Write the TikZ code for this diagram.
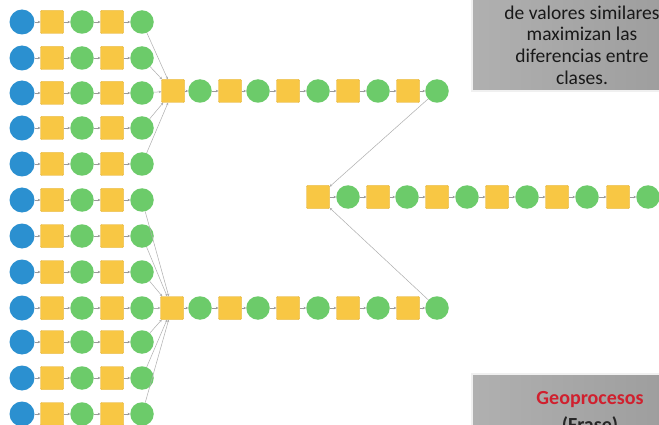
\documentclass[tikz,border=0pt]{standalone}
\usepackage{fontspec}
\setmainfont{Carlito}
\usetikzlibrary{arrows.meta}
\definecolor{mblue}{HTML}{2B90D0}
\definecolor{myel}{HTML}{F8C744}
\definecolor{myelb}{HTML}{E3AE2A}
\definecolor{mgrn}{HTML}{6CCB6A}
\definecolor{mline}{HTML}{9A9A9A}
\definecolor{boxl}{HTML}{B0B0B0}
\definecolor{boxr}{HTML}{9E9E9E}
\definecolor{mred}{HTML}{D0202E}
\begin{document}
\begin{tikzpicture}[x=1pt,y=-1pt,
 bl/.style={circle,fill=mblue,minimum size=25pt,inner sep=0pt},
 ye/.style={rectangle,rounded corners=1pt,fill=myel,draw=myelb,line width=0.4pt,minimum width=23pt,minimum height=23pt,inner sep=0pt},
 gr/.style={circle,fill=mgrn,minimum size=23.5pt,inner sep=0pt},
 con/.style={draw=mline,line width=0.5pt,-{Stealth[length=2.5pt,width=2.5pt]}},
 lnk/.style={draw=mline!80,line width=0.5pt,-{Stealth[length=2.5pt,width=2.5pt]}},
 greybox/.style={left color=boxl,right color=boxr}]
\useasboundingbox (0,0) rectangle (659,425);
\fill[white] (0,0) rectangle (659,425);
% left column
\foreach \i/\y in {1/22,2/58,3/93,4/128,5/164,6/200,7/236,8/272,9/308,10/342,11/378,12/414}{
  \node[bl] (b\i) at (22,\y) {};
  \node[ye] (ya\i) at (52,\y) {};
  \node[gr] (ga\i) at (82,\y) {};
  \node[ye] (yb\i) at (112,\y) {};
  \node[gr] (gb\i) at (142,\y) {};
  \draw[con] (b\i) -- (ya\i);
  \draw[con] (ya\i) -- (ga\i);
  \draw[con] (ga\i) -- (yb\i);
  \draw[con] (yb\i) -- (gb\i);
}
% top merge and chain
\node[ye] (mt) at (173,91) {};
\node[ye] (mb) at (172,308) {};
\foreach \i in {1,...,5}{\draw[lnk] (gb\i) -- (mt);}
\foreach \i in {6,...,12}{\draw[lnk] (gb\i) -- (mb);}
\foreach \n/\x/\s in {1/200/gr,2/230/ye,3/258/gr,4/288/ye,5/318/gr,6/348/ye,7/378/gr,8/408/ye,9/437/gr}{
  \node[\s] (t\n) at (\x,91) {};
  \node[\s] (u\n) at (\x,308) {};
}
\draw[con] (mt) -- (t1);
\draw[con] (mb) -- (u1);
\foreach \a/\b in {1/2,2/3,3/4,4/5,5/6,6/7,7/8,8/9}{
  \draw[con] (t\a) -- (t\b);
  \draw[con] (u\a) -- (u\b);
}
% middle chain
\foreach \n/\x/\s in {0/318/ye,1/348/gr,2/378/ye,3/407/gr,4/437/ye,5/467/gr,6/497/ye,7/527/gr,8/557/ye,9/587/gr,10/618/ye,11/648/gr}{
  \node[\s] (m\n) at (\x,197) {};
}
\foreach \a/\b in {0/1,1/2,2/3,3/4,4/5,5/6,6/7,7/8,8/9,9/10,10/11}{
  \draw[con] (m\a) -- (m\b);
}
\draw[lnk] (t9) -- (m0);
\draw[lnk] (u9) -- (m0);
% grey boxes
\fill[black!6] (471,-5) rectangle (662,92);
\fill[greybox] (473,-5) rectangle (662,90);
\node[align=center,text=black!90,font=\fontsize{19.5}{21.7}\selectfont] (note) at (582,45)
  {de valores similares\\maximizan las\\diferencias entre\\clases.};
\fill[black!6] (471,373) rectangle (662,430);
\fill[greybox] (473,375) rectangle (662,430);
\node[text=mred,font=\fontsize{20}{22}\selectfont\bfseries] (geo) at (590,400) {Geoprocesos};
\node[text=black!85,font=\fontsize{20}{22}\selectfont\bfseries] (frase) at (590,426) {(Frase)};
\end{tikzpicture}
\end{document}
